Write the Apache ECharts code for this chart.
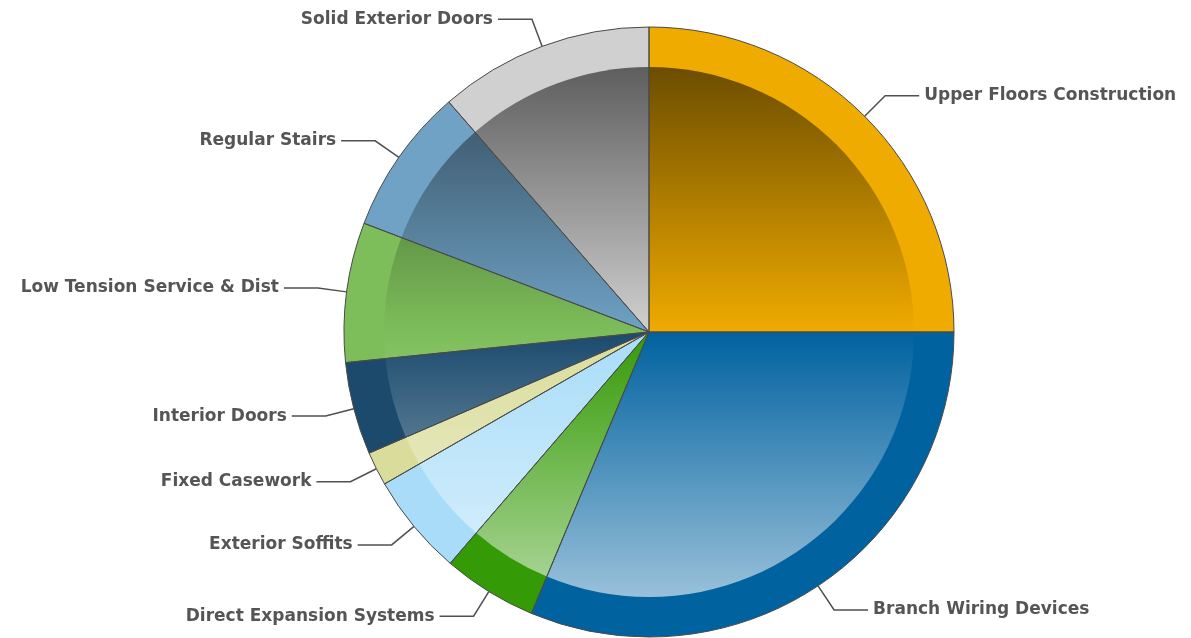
<!DOCTYPE html>
<html><head><meta charset="utf-8">
<script src="https://cdn.jsdelivr.net/npm/echarts@6/dist/echarts.min.js"></script>
<style>html,body{margin:0;padding:0;background:#fff}#c{width:1191px;height:638px}</style>
</head><body><div id="c"></div>
<script>
const categories = ['Upper Floors Construction','Branch Wiring Devices','Direct Expansion Systems','Exterior Soffits','Fixed Casework','Interior Doors','Low Tension Service & Dist','Regular Stairs','Solid Exterior Doors'];
const values = [25.0, 31.3, 5.0, 5.4, 1.8, 4.9, 7.4, 7.8, 11.4];
const colors = ['#f0ab00','#00629f','#349a06','#a8dcf8','#d9dc9a','#1b4a6d','#7dbd5a','#6fa2c5','#d0d0d0'];

const CX = 649, CY = 332, R_OUT = 305, R_IN = 265;

function hexToRgb(h){h=h.replace('#','');return [parseInt(h.substr(0,2),16),parseInt(h.substr(2,2),16),parseInt(h.substr(4,2),16)];}
function mix(c, t, a){const x=hexToRgb(c), y=hexToRgb(t);return 'rgb('+x.map((v,i)=>Math.round(v+(y[i]-v)*a)).join(',')+')';}
function grad(c){
  return new echarts.graphic.LinearGradient(0, CY-R_IN, 0, CY+R_IN, [
    {offset:0, color: mix(c,'#000000',0.55)},
    {offset:0.5, color: c},
    {offset:1, color: mix(c,'#ffffff',0.6)}
  ], true);
}

const chart = echarts.init(document.getElementById('c'), null, {renderer:'canvas'});
const common = {type:'pie', center:[CX,CY], startAngle:90, clockwise:true, animation:false};
chart.setOption({
  backgroundColor:'#ffffff',
  series:[
    Object.assign({}, common, {
      radius: R_OUT, silent:true, label:{show:false}, labelLine:{show:false},
      data: categories.map((n,i)=>({name:n, value:values[i], itemStyle:{color:colors[i], borderWidth:0}}))
    }),
    Object.assign({}, common, {
      radius: R_IN, silent:true, label:{show:false}, labelLine:{show:false},
      data: categories.map((n,i)=>({name:n, value:values[i], itemStyle:{color:grad(colors[i]), borderWidth:0}}))
    }),
    Object.assign({}, common, {
      radius: R_OUT, silent:true, avoidLabelOverlap:true,
      itemStyle:{color:'rgba(0,0,0,0)', borderColor:'#4a4a4a', borderWidth:1},
      label:{show:true, formatter:'{b}', color:'#555555', fontWeight:'bold', fontFamily:'DejaVu Sans', fontSize:17, bleedMargin:0},
      labelLine:{show:true, length:29, length2:34, lineStyle:{color:'#505050', width:1.5}},
      data: categories.map((n,i)=>({name:n, value:values[i]}))
    })
  ]
});
</script></body></html>
